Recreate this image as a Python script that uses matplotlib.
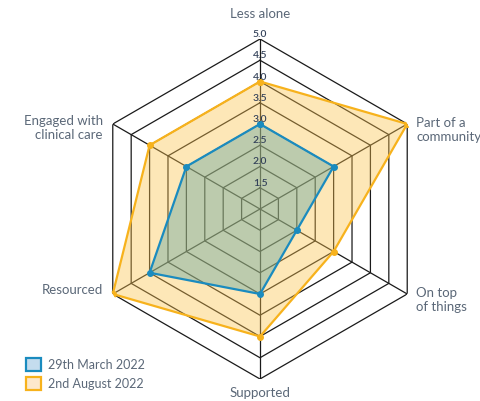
import numpy as np
import matplotlib.pyplot as plt
from matplotlib.patches import Patch

plt.rcParams['font.family'] = ['Lato', 'DejaVu Sans']

# chart data
categories = ['Less alone', 'Part of a\ncommunity', 'On top\nof things',
              'Supported', 'Resourced', 'Engaged with\nclinical care']
march = [3.0, 3.0, 2.0, 3.0, 4.0, 3.0]
august = [4.0, 5.0, 3.0, 4.0, 5.0, 4.0]
ring_values = [1.5, 2.0, 2.5, 3.0, 3.5, 4.0, 4.5, 5.0]
series_names = ['29th March 2022', '2nd August 2022']

blue = '#1a8bbf'
orange = '#f7b21c'
text_col = '#5b6878'

fig = plt.figure(figsize=(4.81, 4.02), dpi=100)
ax = fig.add_axes([90 / 481, 22 / 402, 340 / 481, 340 / 402], projection='polar')
ax.set_theta_offset(np.pi / 2)
ax.set_theta_direction(-1)
ax.set_rlim(1.0, 5.0)
ax.grid(False)
ax.spines['polar'].set_visible(False)
ax.set_xticks([])
ax.set_yticks([])
ax.patch.set_alpha(0)

angles = np.linspace(0, 2 * np.pi, len(categories), endpoint=False)
closed = np.append(angles, angles[0])

# hexagon grid
for r in ring_values:
    ax.plot(closed, [r] * len(closed), color='#1a1a1a', lw=0.9, zorder=1)
for a in angles:
    ax.plot([a, a], [1.0, 5.0], color='#1a1a1a', lw=0.9, zorder=1)

# series
aug_c = august + august[:1]
mar_c = march + march[:1]
ax.fill(closed, aug_c, color='#fcc34d', alpha=0.4, lw=0, zorder=2)
ax.plot(closed, aug_c, color=orange, lw=1.6, marker='o', ms=4, zorder=4)
ax.fill(closed, mar_c, color='#5ba3a0', alpha=0.4, lw=0, zorder=3)
ax.plot(closed, mar_c, color=blue, lw=1.6, marker='o', ms=4, zorder=5)

# ring labels
for r in ring_values:
    ax.annotate(f'{r:.1f}', xy=(0, r), xytext=(0, 1), textcoords='offset pixels',
                ha='center', va='bottom', fontsize=7.5, color='#34425a',
                fontweight='semibold', zorder=6)

# axis labels, offset in pixels from the outer vertex
label_offsets = [(0, 26, 'center'), (9, -5, 'left'), (9, -5, 'left'),
                 (0, -13, 'center'), (-10, 5, 'right'), (-10, -3, 'right')]
for a, (dx, dy, ha), name in zip(angles, label_offsets, categories):
    ax.annotate(name, xy=(a, 5.0), xytext=(dx, dy), textcoords='offset pixels',
                ha=ha, va='center', fontsize=9.5, color=text_col,
                linespacing=1.25, annotation_clip=False)

handles = [Patch(facecolor='#c4dcee', edgecolor=blue, lw=1.6),
           Patch(facecolor='#fde8cc', edgecolor=orange, lw=1.6)]
fig.legend(handles, series_names, loc='lower left', bbox_to_anchor=(0.03, 0.0),
           frameon=False, fontsize=9, labelcolor=text_col,
           handlelength=1.2, handleheight=1.25, handletextpad=0.6,
           labelspacing=0.45)

fig.savefig('out.png', dpi=100)
